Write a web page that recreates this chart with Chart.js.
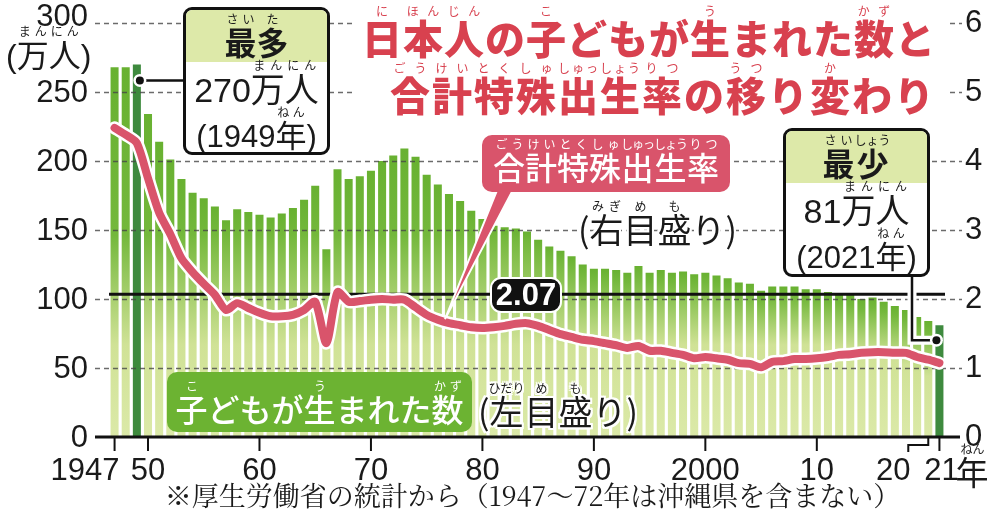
<!DOCTYPE html>
<html lang="ja">
<head>
<meta charset="UTF-8">
<title>日本人の子どもが生まれた数と合計特殊出生率の移り変わり</title>
<script src="https://cdn.jsdelivr.net/npm/chart.js"></script>
<style>
    body { margin: 0; background: #fff; }
    #wrap { position: relative; width: 1000px; height: 521px; font-family: "Noto Sans CJK JP", sans-serif; color: #1a1a1a; }
    #wrap canvas { position: absolute; left: 0; top: 0; }
    .abs { position: absolute; white-space: nowrap; }
    rt { font-size: 12px; font-weight: 400; }
    .title { left: 352px; top: 0; width: 596px; height: 120px; background: #fff; }
    .tline { right: 12px; color: #d8414f; font-weight: 900; font-size: 40px; line-height: 40px; letter-spacing: 1px; }
    .unit { left: 6px; top: 25px; font-family: "Liberation Sans", "Noto Sans CJK JP"; font-size: 32px; line-height: 32px; }
    .callout { border: 3px solid #111; border-radius: 9px; background: #fff; box-sizing: border-box; overflow: hidden; text-align: center; }
    .callout .head { position: absolute; left: 0; right: 0; top: 0; height: 52px; background: #dde9a9; }
    .callout .row { position: absolute; left: 0; right: 0; }
    .callout .big { font-weight: 700; font-size: 32px; line-height: 32px; top: 3px; }
    .callout .num { font-family: "Liberation Sans", "Noto Sans CJK JP"; font-size: 34px; line-height: 34px; top: 49px; }
    .callout .yr { font-family: "Liberation Sans", "Noto Sans CJK JP"; font-size: 31px; line-height: 31px; top: 96px; }
    .tag { border-radius: 10px; color: #fff; font-size: 32px; line-height: 32px; font-weight: 500; text-align: center; box-sizing: border-box; }
    .tag rt { letter-spacing: -1px; }
    .outline { font-size: 34px; line-height: 34px;
        text-shadow: 2px 0 #fff, -2px 0 #fff, 0 2px #fff, 0 -2px #fff, 2px 2px #fff, -2px 2px #fff, 2px -2px #fff, -2px -2px #fff; }
    .rate { left: 490px; top: 277px; width: 72px; height: 36px; background: #111; border: 2px solid #fff; border-radius: 11px; box-sizing: border-box;
        color: #fff; font-family: "Liberation Sans"; font-weight: 700; font-size: 31px; line-height: 32px; text-align: center; }
    .note { left: 0; width: 1000px; top: 480px; text-align: center; font-family: "Noto Serif CJK JP", "Liberation Serif", serif; font-size: 27px; line-height: 30px; padding-left: 65px; box-sizing: border-box; }
</style>
</head>
<body>
<div id="wrap">
    <canvas id="birthChart"></canvas>

    <div class="abs unit">(<ruby>万<rt>まん</rt></ruby><ruby>人<rt>にん</rt></ruby>)</div>

    <div class="abs title">
        <div class="abs tline" style="top:5px;"><ruby>日<rt>に</rt></ruby><ruby>本<rt>ほん</rt></ruby><ruby>人<rt>じん</rt></ruby>の<ruby>子<rt>こ</rt></ruby>どもが<ruby>生<rt>う</rt></ruby>まれた<ruby>数<rt>かず</rt></ruby>と</div>
        <div class="abs tline" style="top:62px; letter-spacing:2px;"><ruby>合<rt>ごう</rt></ruby><ruby>計<rt>けい</rt></ruby><ruby>特<rt>とく</rt></ruby><ruby>殊<rt>しゅ</rt></ruby><ruby>出<rt>しゅっ</rt></ruby><ruby>生<rt>しょう</rt></ruby><ruby>率<rt>りつ</rt></ruby>の<ruby>移<rt>うつ</rt></ruby>り<ruby>変<rt>か</rt></ruby>わり</div>
    </div>

    <div class="abs callout" style="left:183px; top:7px; width:147px; height:148px;">
        <div class="head"></div>
        <div class="row big"><ruby>最<rt>さい</rt></ruby><ruby>多<rt>た</rt></ruby></div>
        <div class="row num">270<ruby>万<rt>まん</rt></ruby><ruby>人<rt>にん</rt></ruby></div>
        <div class="row yr">(1949<ruby>年<rt>ねん</rt></ruby>)</div>
    </div>

    <div class="abs callout" style="left:783px; top:128px; width:147px; height:149px;">
        <div class="head"></div>
        <div class="row big"><ruby>最<rt>さい</rt></ruby><ruby>少<rt>しょう</rt></ruby></div>
        <div class="row num">81<ruby>万<rt>まん</rt></ruby><ruby>人<rt>にん</rt></ruby></div>
        <div class="row yr">(2021<ruby>年<rt>ねん</rt></ruby>)</div>
    </div>

    <div class="abs tag" style="left:482px; top:135px; width:248px; height:57px; background:#d9546b; padding-top:15px;"><ruby>合<rt>ごう</rt></ruby><ruby>計<rt>けい</rt></ruby><ruby>特<rt>とく</rt></ruby><ruby>殊<rt>しゅ</rt></ruby><ruby>出<rt>しゅっ</rt></ruby><ruby>生<rt>しょう</rt></ruby><ruby>率<rt>りつ</rt></ruby></div>
    <div class="abs outline" style="left:578px; top:200px;">(<ruby>右<rt>みぎ</rt></ruby><ruby>目<rt>め</rt></ruby><ruby>盛<rt>も</rt></ruby>り)</div>

    <div class="abs tag" style="left:167px; top:372px; width:305px; height:60px; background:#6cb332; padding-top:20px;"><ruby>子<rt>こ</rt></ruby>どもが<ruby>生<rt>う</rt></ruby>まれた<ruby>数<rt>かず</rt></ruby></div>
    <div class="abs outline" style="left:478px; top:382px;">(<ruby>左<rt>ひだり</rt></ruby><ruby>目<rt>め</rt></ruby><ruby>盛<rt>も</rt></ruby>り)</div>

    <div class="abs rate">2.07</div>

    <div class="abs note">※厚生労働省の統計から（1947〜72年は沖縄県を含まない）</div>
</div>

<script>
    // 年（横軸）
    const years = [
        1947, 1948, 1949, 1950, 1951, 1952, 1953, 1954, 1955, 1956,
        1957, 1958, 1959, 1960, 1961, 1962, 1963, 1964, 1965, 1966,
        1967, 1968, 1969, 1970, 1971, 1972, 1973, 1974, 1975, 1976,
        1977, 1978, 1979, 1980, 1981, 1982, 1983, 1984, 1985, 1986,
        1987, 1988, 1989, 1990, 1991, 1992, 1993, 1994, 1995, 1996,
        1997, 1998, 1999, 2000, 2001, 2002, 2003, 2004, 2005, 2006,
        2007, 2008, 2009, 2010, 2011, 2012, 2013, 2014, 2015, 2016,
        2017, 2018, 2019, 2020, 2021
    ];
    // 子どもが生まれた数（万人）
    const births = [
        268, 268, 270, 234, 214, 201, 187, 177, 173, 167,
        157, 165, 163, 161, 159, 162, 166, 172, 182, 136,
        194, 187, 189, 193, 200, 204, 209, 203, 190, 183,
        176, 171, 164, 158, 153, 152, 151, 149, 143, 138,
        135, 131, 125, 122, 122, 121, 119, 124, 119, 121,
        119, 120, 118, 119, 117, 115, 112, 111, 106, 109,
        109, 109, 107, 107, 105, 104, 103, 100, 101, 98,
        95, 92, 87, 84, 81
    ];
    // 合計特殊出生率（右目盛り）
    const fertility = [
        4.48, 4.38, 4.26, 3.75, 3.25, 2.94, 2.59, 2.39, 2.22, 2.06,
        1.84, 1.94, 1.87, 1.80, 1.75, 1.75, 1.77, 1.84, 1.96, 1.36,
        2.10, 1.96, 1.97, 1.99, 2.00, 1.99, 1.99, 1.88, 1.77, 1.70,
        1.65, 1.62, 1.59, 1.58, 1.59, 1.61, 1.64, 1.65, 1.61, 1.55,
        1.49, 1.45, 1.41, 1.39, 1.36, 1.33, 1.29, 1.32, 1.25, 1.25,
        1.22, 1.19, 1.14, 1.16, 1.14, 1.12, 1.07, 1.06, 1.01, 1.09,
        1.10, 1.13, 1.13, 1.14, 1.16, 1.19, 1.20, 1.22, 1.23, 1.23,
        1.22, 1.22, 1.16, 1.12, 1.07
    ];
    const replacementRate = 2.07;
    const highlightYears = [1949, 2021];
    const leftTicks = [0, 50, 100, 150, 200, 250, 300];
    const tickYears = [1947, 1950, 1960, 1970, 1980, 1990, 2000, 2010, 2020, 2021];
    const tickLabels = ['1947', '50', '60', '70', '80', '90', '2000', '10', '20', '21'];

    const pink = '#d9546b';

    function barColor(c) {
        const chart = c.chart;
        if (!chart.chartArea || c.type !== 'data') return '#9ccb5a';
        if (highlightYears.includes(years[c.dataIndex])) return '#3e8a3e';
        const ys = chart.scales.y;
        const top = ys.getPixelForValue(c.raw);
        const bottom = ys.getPixelForValue(0);
        const h = bottom - top;
        const greenEnd = Math.max(top + 10, 235);
        const lightStart = Math.max(greenEnd + 45, 345);
        const f = p => Math.min(1, Math.max(0, (p - top) / h));
        const g = chart.ctx.createLinearGradient(0, top, 0, bottom);
        g.addColorStop(0, '#68b131');
        g.addColorStop(f(greenEnd), '#74b83c');
        g.addColorStop(f(lightStart), '#d0e296');
        g.addColorStop(1, '#dbe9a8');
        return g;
    }

    function strokeLine(ctx, pts) {
        ctx.beginPath();
        ctx.moveTo(pts[0][0], pts[0][1]);
        for (let i = 1; i < pts.length; i++) ctx.lineTo(pts[i][0], pts[i][1]);
        ctx.stroke();
    }

    const decorations = {
        id: 'decorations',
        afterDatasetDraw(chart, args) {
            if (args.index !== 0) return;
            const { ctx, chartArea, scales: { y, y2 } } = chart;
            ctx.save();
            // dashed grid over the bars
            ctx.strokeStyle = 'rgba(70,70,70,0.8)';
            ctx.lineWidth = 1.3;
            ctx.setLineDash([5, 4]);
            leftTicks.forEach(v => {
                if (v === 0) return;
                const py = Math.round(y.getPixelForValue(v)) + 0.5;
                strokeLine(ctx, [[95, py], [962, py]]);
            });
            ctx.setLineDash([]);
            // 2.07 line
            const ry = y2.getPixelForValue(replacementRate);
            ctx.strokeStyle = '#111';
            ctx.lineWidth = 3;
            strokeLine(ctx, [[chartArea.left, ry], [chartArea.right, ry]]);
            ctx.restore();
        },
        afterDatasetsDraw(chart) {
            const { ctx, scales: { x, y, y2 } } = chart;
            const base = y.getPixelForValue(0);
            ctx.save();
            ctx.lineCap = 'butt';

            // left axis labels
            ctx.fillStyle = '#1a1a1a';
            ctx.font = '31px "Liberation Sans"';
            ctx.textBaseline = 'middle';
            ctx.textAlign = 'right';
            leftTicks.forEach(v => {
                const py = y.getPixelForValue(v) + (v === 300 ? -6 : 1);
                ctx.fillText(String(v), 88, py);
            });

            // x axis
            ctx.strokeStyle = '#111';
            ctx.lineWidth = 3;
            strokeLine(ctx, [[95, base], [960, base]]);
            ctx.lineWidth = 2;
            tickYears.forEach((yr, i) => {
                const px = x.getPixelForValue(years.indexOf(yr));
                const label = tickLabels[i];
                if (yr === 2020) {
                    strokeLine(ctx, [[px, base], [px, base + 8], [px - 20, base + 8], [px - 20, base + 15]]);
                    ctx.textAlign = 'center';
                    ctx.fillText(label, px - 35, 471);
                    return;
                }
                strokeLine(ctx, [[px, base], [px, base + 14]]);
                if (yr === 1947) {
                    ctx.textAlign = 'right';
                    ctx.fillText(label, px + 5, 471);
                } else if (yr === 2021) {
                    ctx.textAlign = 'center';
                    ctx.fillText(label, px + 2, 471);
                    ctx.textAlign = 'left';
                    ctx.font = '33px "Noto Sans CJK JP"';
                    ctx.fillText('年', px + 16, 472);
                    ctx.font = '12px "Noto Sans CJK JP"';
                    ctx.textAlign = 'center';
                    ctx.fillText('ねん', px + 33, 449);
                    ctx.font = '31px "Liberation Sans"';
                } else {
                    ctx.textAlign = 'center';
                    ctx.fillText(label, px, 471);
                }
            });

            // callout connectors
            const iMax = years.indexOf(1949);
            const mx = x.getPixelForValue(iMax) + 3;
            const my = y.getPixelForValue(births[iMax]) + 16;
            ctx.strokeStyle = '#111';
            ctx.lineWidth = 2.5;
            strokeLine(ctx, [[mx, my], [185, my]]);

            const iMin = years.indexOf(2021);
            const nx = x.getPixelForValue(iMin) - 3;
            const ny = y.getPixelForValue(births[iMin]) + 15;
            ctx.strokeStyle = '#fff';
            ctx.lineWidth = 9;
            strokeLine(ctx, [[912, 276], [912, ny], [nx, ny]]);
            ctx.strokeStyle = '#111';
            ctx.lineWidth = 2.5;
            strokeLine(ctx, [[912, 276], [912, ny], [nx, ny]]);

            [[mx, my], [nx, ny]].forEach(([px, py]) => {
                ctx.fillStyle = '#fff';
                ctx.beginPath(); ctx.arc(px, py, 6.5, 0, Math.PI * 2); ctx.fill();
                ctx.fillStyle = '#111';
                ctx.beginPath(); ctx.arc(px, py, 4, 0, Math.PI * 2); ctx.fill();
            });

            // pointer from the fertility label to the line
            const iTip = years.indexOf(1977);
            const tx = x.getPixelForValue(iTip) - 4;
            const ty = y2.getPixelForValue(fertility[iTip]) - 4;
            ctx.fillStyle = pink;
            ctx.strokeStyle = '#fff';
            ctx.lineWidth = 2;
            ctx.beginPath();
            ctx.moveTo(498, 188);
            ctx.lineTo(514, 188);
            ctx.lineTo(tx, ty);
            ctx.closePath();
            ctx.fill();
            ctx.stroke();
            ctx.restore();
        }
    };

    new Chart(document.getElementById('birthChart'), {
        type: 'bar',
        data: {
            labels: years,
            datasets: [{
                label: '子どもが生まれた数',
                data: births,
                backgroundColor: barColor,
                barPercentage: 0.72,
                categoryPercentage: 1,
                yAxisID: 'y',
                order: 3
            }, {
                type: 'line',
                label: 'outline',
                data: fertility,
                borderColor: '#fff',
                borderWidth: 13,
                borderCapStyle: 'round',
                borderJoinStyle: 'round',
                pointRadius: 0,
                tension: 0.25,
                yAxisID: 'y2',
                order: 2
            }, {
                type: 'line',
                label: '合計特殊出生率',
                data: fertility,
                borderColor: pink,
                borderWidth: 8,
                borderCapStyle: 'round',
                borderJoinStyle: 'round',
                pointRadius: 0,
                tension: 0.25,
                yAxisID: 'y2',
                order: 1
            }]
        },
        options: {
            responsive: true,
            maintainAspectRatio: false,
            animation: false,
            layout: { padding: { top: 23, bottom: 84, left: 0, right: 0 } },
            plugins: { legend: { display: false }, tooltip: { enabled: false } },
            scales: {
                x: { display: false },
                y: {
                    position: 'left',
                    min: 0, max: 300,
                    ticks: { stepSize: 50, display: false },
                    grid: { display: false, drawTicks: false },
                    border: { display: false },
                    afterFit: s => { s.width = 109; s.paddingTop = 0; s.paddingBottom = 0; }
                },
                y2: {
                    position: 'right',
                    min: 0, max: 6,
                    ticks: { stepSize: 1, padding: 20, color: '#1a1a1a', font: { family: 'Liberation Sans', size: 31 } },
                    grid: { display: false, drawTicks: false },
                    border: { display: false },
                    afterFit: s => { s.width = 55; s.paddingTop = 0; s.paddingBottom = 0; }
                }
            }
        },
        plugins: [decorations]
    });
</script>
</body>
</html>
